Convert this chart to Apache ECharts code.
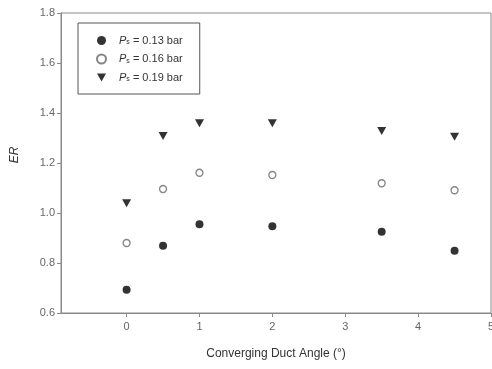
<!DOCTYPE html>
<html><head><meta charset="utf-8">
<script src="https://cdn.jsdelivr.net/npm/echarts@6/dist/echarts.min.js"></script>
<style>html,body{margin:0;padding:0;background:#fff}#c{width:492px;height:369px}</style>
</head><body><div id="c"></div>
<script>
const angles = [0, 0.5, 1, 2, 3.5, 4.5];
const er013 = [0.693, 0.869, 0.955, 0.947, 0.925, 0.849];
const er016 = [0.880, 1.096, 1.161, 1.152, 1.119, 1.091];
const er019 = [1.039, 1.308, 1.359, 1.359, 1.328, 1.305];
const seriesNames = ['0.13', '0.16', '0.19'];
const xTicks = [0, 1, 2, 3, 4, 5];

const pair = (ys) => angles.map((a, i) => [a, ys[i]]);
const chart = echarts.init(document.getElementById('c'));
const axisGray = '#8a8a8a';
const downTri = 'path://M0,0 L10,0 L5,9 Z';
chart.setOption({
  animation: false,
  backgroundColor: '#fff',
  grid: { left: 61, right: 1, top: 13, bottom: 56, containLabel: false, outerBoundsMode: 'none',
          show: true, borderColor: axisGray, borderWidth: 1 },
  legend: {
    left: 78, top: 23, orient: 'vertical',
    padding: [12, 17, 11, 18],
    borderColor: '#555', borderWidth: 1,
    itemGap: 7.5, itemWidth: 9, itemHeight: 9,
    data: [
      { name: 'P' + seriesNames[0] },
      { name: 'P' + seriesNames[1] },
      { name: 'P' + seriesNames[2], icon: downTri }
    ],
    formatter: (name) => '{g|}{i|P}{s|s}{t| = ' + name.slice(1) + ' bar}',
    textStyle: {
      fontFamily: 'Liberation Sans', fontSize: 11, color: '#333',
      rich: {
        g: { width: 8 },
        i: { fontStyle: 'italic', fontFamily: 'Liberation Sans', fontSize: 11, color: '#333' },
        s: { fontFamily: 'Liberation Sans', fontSize: 7, color: '#333', verticalAlign: 'bottom', lineHeight: 9 },
        t: { fontFamily: 'Liberation Sans', fontSize: 11, color: '#333' }
      }
    }
  },
  xAxis: {
    type: 'value', min: -0.9, max: 5,
    name: 'Converging Duct Angle (°)', nameLocation: 'middle', nameGap: 35,
    nameTextStyle: { fontFamily: 'Liberation Sans', fontSize: 12, color: '#333' },
    axisLine: { onZero: false, lineStyle: { color: axisGray } },
    axisTick: { show: true, length: 4, lineStyle: { color: axisGray }, customValues: xTicks },
    axisLabel: { fontFamily: 'Liberation Sans', fontSize: 11, color: '#666', margin: 8, customValues: xTicks },
    splitLine: { show: false }
  },
  yAxis: {
    type: 'value', min: 0.6, max: 1.8, interval: 0.2,
    name: 'ER', nameLocation: 'middle', nameGap: 40, nameRotate: 90,
    nameTextStyle: { fontFamily: 'Liberation Sans', fontSize: 12, fontStyle: 'italic', color: '#333', padding: [0, 0, 0, 16] },
    axisLine: { show: true, onZero: false, lineStyle: { color: axisGray } },
    axisTick: { show: true, length: 4, lineStyle: { color: axisGray } },
    axisLabel: { fontFamily: 'Liberation Sans', fontSize: 11, color: '#666', margin: 6, formatter: v => v.toFixed(1) },
    splitLine: { show: false }
  },
  series: [
    { name: 'P0.13', type: 'scatter', data: pair(er013), symbol: 'circle', symbolSize: 8,
      itemStyle: { color: '#000' } },
    { name: 'P0.16', type: 'scatter', data: pair(er016), symbol: 'circle', symbolSize: 7,
      itemStyle: { color: '#fff', borderColor: '#666', borderWidth: 1.3 } },
    { name: 'P0.19', type: 'scatter', data: pair(er019), symbol: 'triangle', symbolSize: [9, 8], symbolRotate: 180,
      itemStyle: { color: '#000' } }
  ]
});
</script></body></html>
